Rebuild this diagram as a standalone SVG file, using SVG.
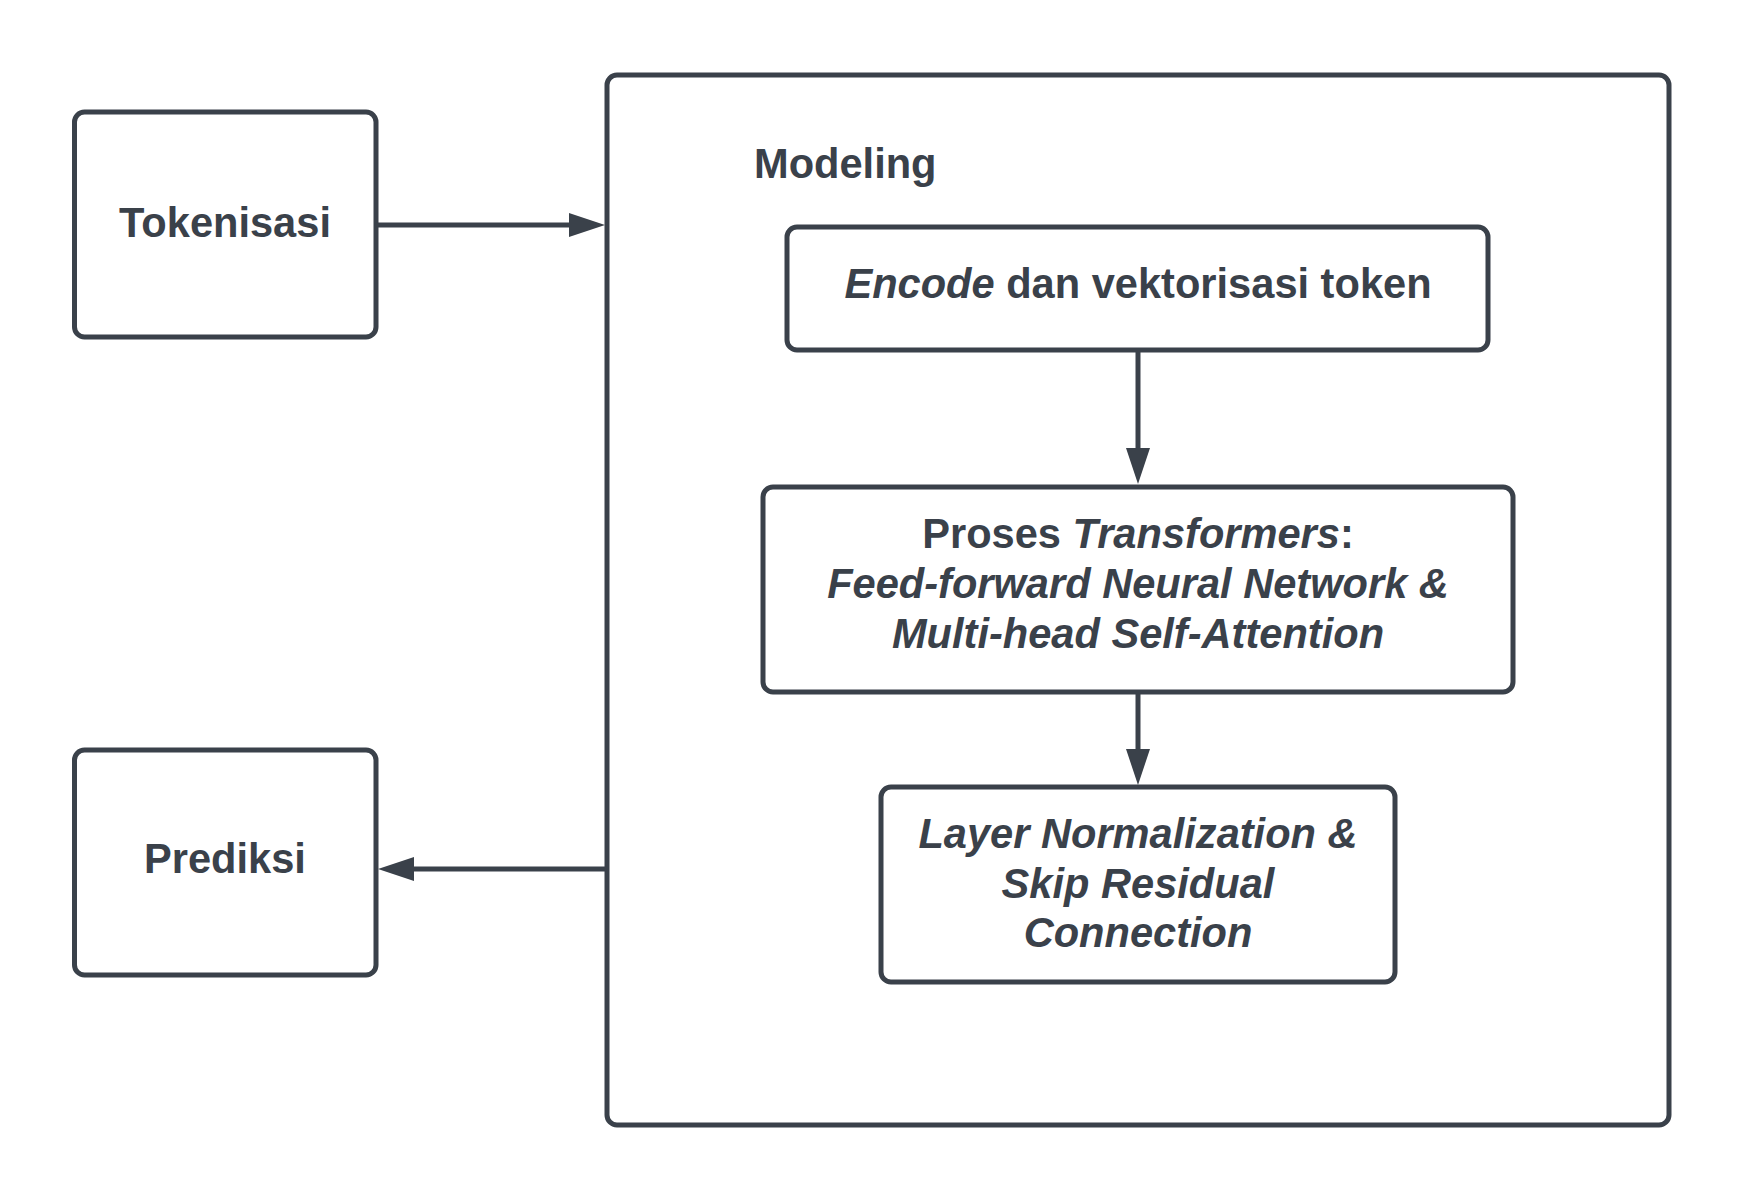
<svg xmlns="http://www.w3.org/2000/svg" width="1744" height="1200" viewBox="0 0 1744 1200">
<style>
.box{fill:#ffffff;stroke:#3a414a;stroke-width:5}
.conn{fill:none;stroke:#3a414a;stroke-width:5}
text{font-family:"Liberation Sans",Arial,sans-serif;font-weight:bold;font-size:41.6px;fill:#3a414a}
.c{text-anchor:middle}
.i{font-style:italic}
</style>
<defs>
<marker id="arr" markerUnits="userSpaceOnUse" viewBox="0 0 36 24" markerWidth="36" markerHeight="24" refX="6" refY="12" orient="auto">
<path d="M0,0 L36,12 L0,24 z" fill="#3a414a"/>
</marker>
</defs>
<rect width="1744" height="1200" fill="#ffffff"/>
<g id="modeling">
<rect class="box" x="607" y="75" width="1062" height="1050" rx="10"/>
<text x="754" y="178">Modeling</text>
</g>
<g id="tokenisasi">
<rect class="box" x="74.5" y="112" width="301.5" height="225" rx="10"/>
<text class="c" x="225" y="237">Tokenisasi</text>
</g>
<g id="prediksi">
<rect class="box" x="74.5" y="750" width="301.5" height="225" rx="10"/>
<text class="c" x="225" y="873">Prediksi</text>
</g>
<g id="encode">
<rect class="box" x="787" y="227" width="701" height="123" rx="10"/>
<text class="c" x="1138" y="298"><tspan class="i">Encode</tspan> dan vektorisasi token</text>
</g>
<g id="proses">
<rect class="box" x="763" y="487" width="750" height="205" rx="10"/>
<text class="c" x="1138" y="548">Proses <tspan class="i">Transformers</tspan>:</text>
<text class="c i" x="1138" y="598">Feed-forward Neural Network &amp;</text>
<text class="c i" x="1138" y="648">Multi-head Self-Attention</text>
</g>
<g id="layernorm">
<rect class="box" x="881" y="787" width="514" height="195" rx="10"/>
<text class="c i" x="1138" y="848">Layer Normalization &amp;</text>
<text class="c i" x="1138" y="898">Skip Residual</text>
<text class="c i" x="1138" y="947">Connection</text>
</g>
<g id="connectors">
<path class="conn" d="M376,225 H575" marker-end="url(#arr)"/>
<path class="conn" d="M607,869 H408" marker-end="url(#arr)"/>
<path class="conn" d="M1138,352 V454" marker-end="url(#arr)"/>
<path class="conn" d="M1138,694 V755" marker-end="url(#arr)"/>
</g>
</svg>
